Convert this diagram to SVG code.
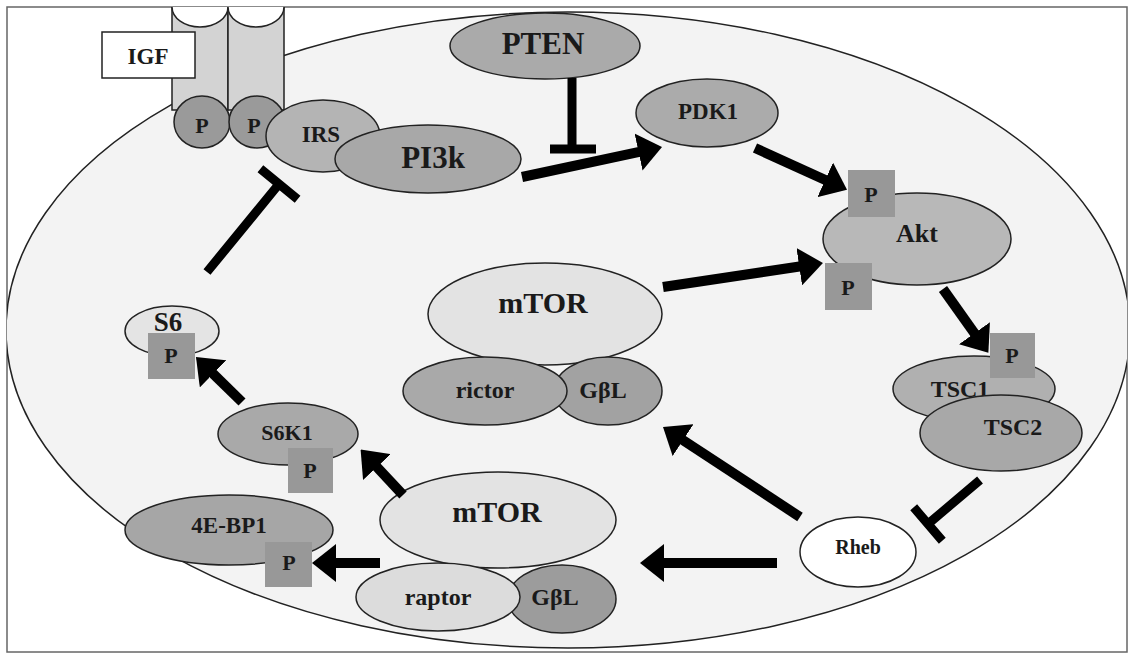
<svg xmlns="http://www.w3.org/2000/svg" width="1130" height="655" viewBox="0 0 1130 655">
<defs>
<clipPath id="frameClip"><rect x="7" y="7" width="1120" height="645"/></clipPath>
<marker id="ah" markerUnits="userSpaceOnUse" viewBox="0 0 24 38" markerWidth="24" markerHeight="38" refX="2" refY="19" orient="auto">
<path d="M0,0 L24,19 L0,38 Z" fill="#000"/>
</marker>
</defs>
<style>
.sh{stroke:#222;stroke-width:1.5}
.t{font-family:"Liberation Serif","Times New Roman",serif;font-weight:bold;fill:#1a1a1a;text-anchor:middle}
.psq{fill:#989898}
.act{stroke:#000;stroke-width:10;fill:none;marker-end:url(#ah)}
.inh{stroke:#000;stroke-width:9;fill:none}
</style>
<rect x="7" y="7" width="1120" height="645" fill="#fff" stroke="#666" stroke-width="1.5"/>
<g clip-path="url(#frameClip)">
<g id="cell"><ellipse cx="568" cy="330" rx="562" ry="318" fill="#f3f3f3" class="sh"/></g>
<g id="receptor">
<rect x="172" y="0" width="56" height="110" fill="#d3d3d3" class="sh"/>
<rect x="228" y="0" width="56" height="110" fill="#d3d3d3" class="sh"/>
<ellipse cx="200" cy="7" rx="28" ry="20" fill="#fff" class="sh"/>
<ellipse cx="256" cy="7" rx="28" ry="20" fill="#fff" class="sh"/>
</g>
</g>
<g id="IGF"><rect x="102" y="32" width="93" height="46" fill="#fff" class="sh"/><text class="t" x="148" y="64" font-size="23">IGF</text></g>
<g id="P-receptor-1"><ellipse cx="202" cy="122" rx="28" ry="26" fill="#9a9a9a" class="sh"/><text class="t" x="202" y="133" font-size="22">P</text></g>
<g id="P-receptor-2"><ellipse cx="257" cy="122" rx="28" ry="26" fill="#9a9a9a" class="sh"/><text class="t" x="254" y="133" font-size="22">P</text></g>
<g id="IRS"><ellipse cx="323" cy="136" rx="57" ry="36" fill="#b4b4b4" class="sh"/><text class="t" x="321" y="142" font-size="23">IRS</text></g>
<g id="PI3k"><ellipse cx="428" cy="159" rx="93" ry="34" fill="#a8a8a8" class="sh"/><text class="t" x="433" y="168" font-size="31">PI3k</text></g>
<g id="PTEN"><ellipse cx="545" cy="46" rx="95" ry="33" fill="#aaaaaa" class="sh"/><text class="t" x="543" y="54" font-size="31">PTEN</text></g>
<g id="PDK1"><ellipse cx="707" cy="113" rx="71" ry="34" fill="#ababab" class="sh"/><text class="t" x="708" y="119" font-size="23">PDK1</text></g>
<g id="Akt">
<ellipse cx="917" cy="239" rx="94" ry="46" fill="#b8b8b8" class="sh"/>
<text class="t" x="917" y="242" font-size="26">Akt</text>
<rect class="psq" x="848" y="170" width="47" height="47"/><text class="t" x="871" y="202" font-size="22">P</text>
<rect class="psq" x="825" y="263" width="47" height="47"/><text class="t" x="848" y="295" font-size="22">P</text>
</g>
<g id="TSC">
<ellipse cx="974" cy="389" rx="81" ry="33" fill="#b0b0b0" class="sh"/>
<text class="t" x="960" y="397" font-size="24">TSC1</text>
<rect class="psq" x="990" y="333" width="45" height="45"/><text class="t" x="1012" y="363" font-size="22">P</text>
<ellipse cx="1001" cy="433" rx="81" ry="38" fill="#a8a8a8" class="sh"/>
<text class="t" x="1013" y="435" font-size="24">TSC2</text>
</g>
<g id="Rheb"><ellipse cx="858" cy="552" rx="58" ry="35" fill="#fff" class="sh"/><text class="t" x="858" y="554" font-size="20">Rheb</text></g>
<g id="mTORC2">
<ellipse cx="545" cy="314" rx="117" ry="51" fill="#e3e3e3" class="sh"/>
<text class="t" x="543" y="313" font-size="30">mTOR</text>
<ellipse cx="608" cy="391" rx="54" ry="34" fill="#a2a2a2" class="sh"/>
<ellipse cx="485" cy="391" rx="82" ry="34" fill="#a9a9a9" class="sh"/>
<text class="t" x="485" y="398" font-size="24">rictor</text>
<text class="t" x="603" y="398" font-size="24">GβL</text>
</g>
<g id="mTORC1">
<ellipse cx="498" cy="520" rx="118" ry="48" fill="#e3e3e3" class="sh"/>
<text class="t" x="497" y="522" font-size="30">mTOR</text>
<ellipse cx="562" cy="599" rx="54" ry="34" fill="#9c9c9c" class="sh"/>
<ellipse cx="438" cy="597" rx="82" ry="34" fill="#dcdcdc" class="sh"/>
<text class="t" x="438" y="605" font-size="24">raptor</text>
<text class="t" x="555" y="605" font-size="24">GβL</text>
</g>
<g id="S6K1">
<ellipse cx="288" cy="434" rx="70" ry="31" fill="#a9a9a9" class="sh"/>
<text class="t" x="287" y="440" font-size="22">S6K1</text>
<rect class="psq" x="288" y="448" width="45" height="45"/><text class="t" x="310" y="478" font-size="22">P</text>
</g>
<g id="FourEBP1">
<ellipse cx="229" cy="530" rx="104" ry="35" fill="#a6a6a6" class="sh"/>
<text class="t" x="229" y="533" font-size="23">4E-BP1</text>
<rect class="psq" x="265" y="542" width="47" height="45"/><text class="t" x="289" y="570" font-size="22">P</text>
</g>
<g id="S6">
<ellipse cx="172" cy="331" rx="47" ry="25" fill="#e4e4e4" class="sh"/>
<text class="t" x="168" y="331" font-size="27">S6</text>
<rect class="psq" x="148" y="333" width="47" height="46"/><text class="t" x="171" y="363" font-size="22">P</text>
</g>
<g id="connectors">
<line class="act" x1="522" y1="177" x2="640.5" y2="151.6"/>
<line class="act" x1="755" y1="148" x2="827" y2="180.7"/>
<line class="act" x1="663" y1="287" x2="801.2" y2="266.3"/>
<line class="act" x1="943" y1="289" x2="975.6" y2="334.8"/>
<line class="act" x1="800" y1="517" x2="681.4" y2="439.1"/>
<line class="act" x1="777" y1="563" x2="662" y2="563"/>
<line class="act" x1="403" y1="495" x2="375.6" y2="465.6"/>
<line class="act" x1="380" y1="563" x2="334" y2="563"/>
<line class="act" x1="242" y1="402" x2="211.7" y2="372.4"/>
<path class="inh" d="M572,78 L572,149 M550,149 L596,149"/>
<path class="inh" d="M207,272 L279,184 M260.4,168.8 L297.6,199.2"/>
<path class="inh" d="M980,480 L928,524 M913.7,507.3 L942.3,540.7"/>
</g>
</svg>
